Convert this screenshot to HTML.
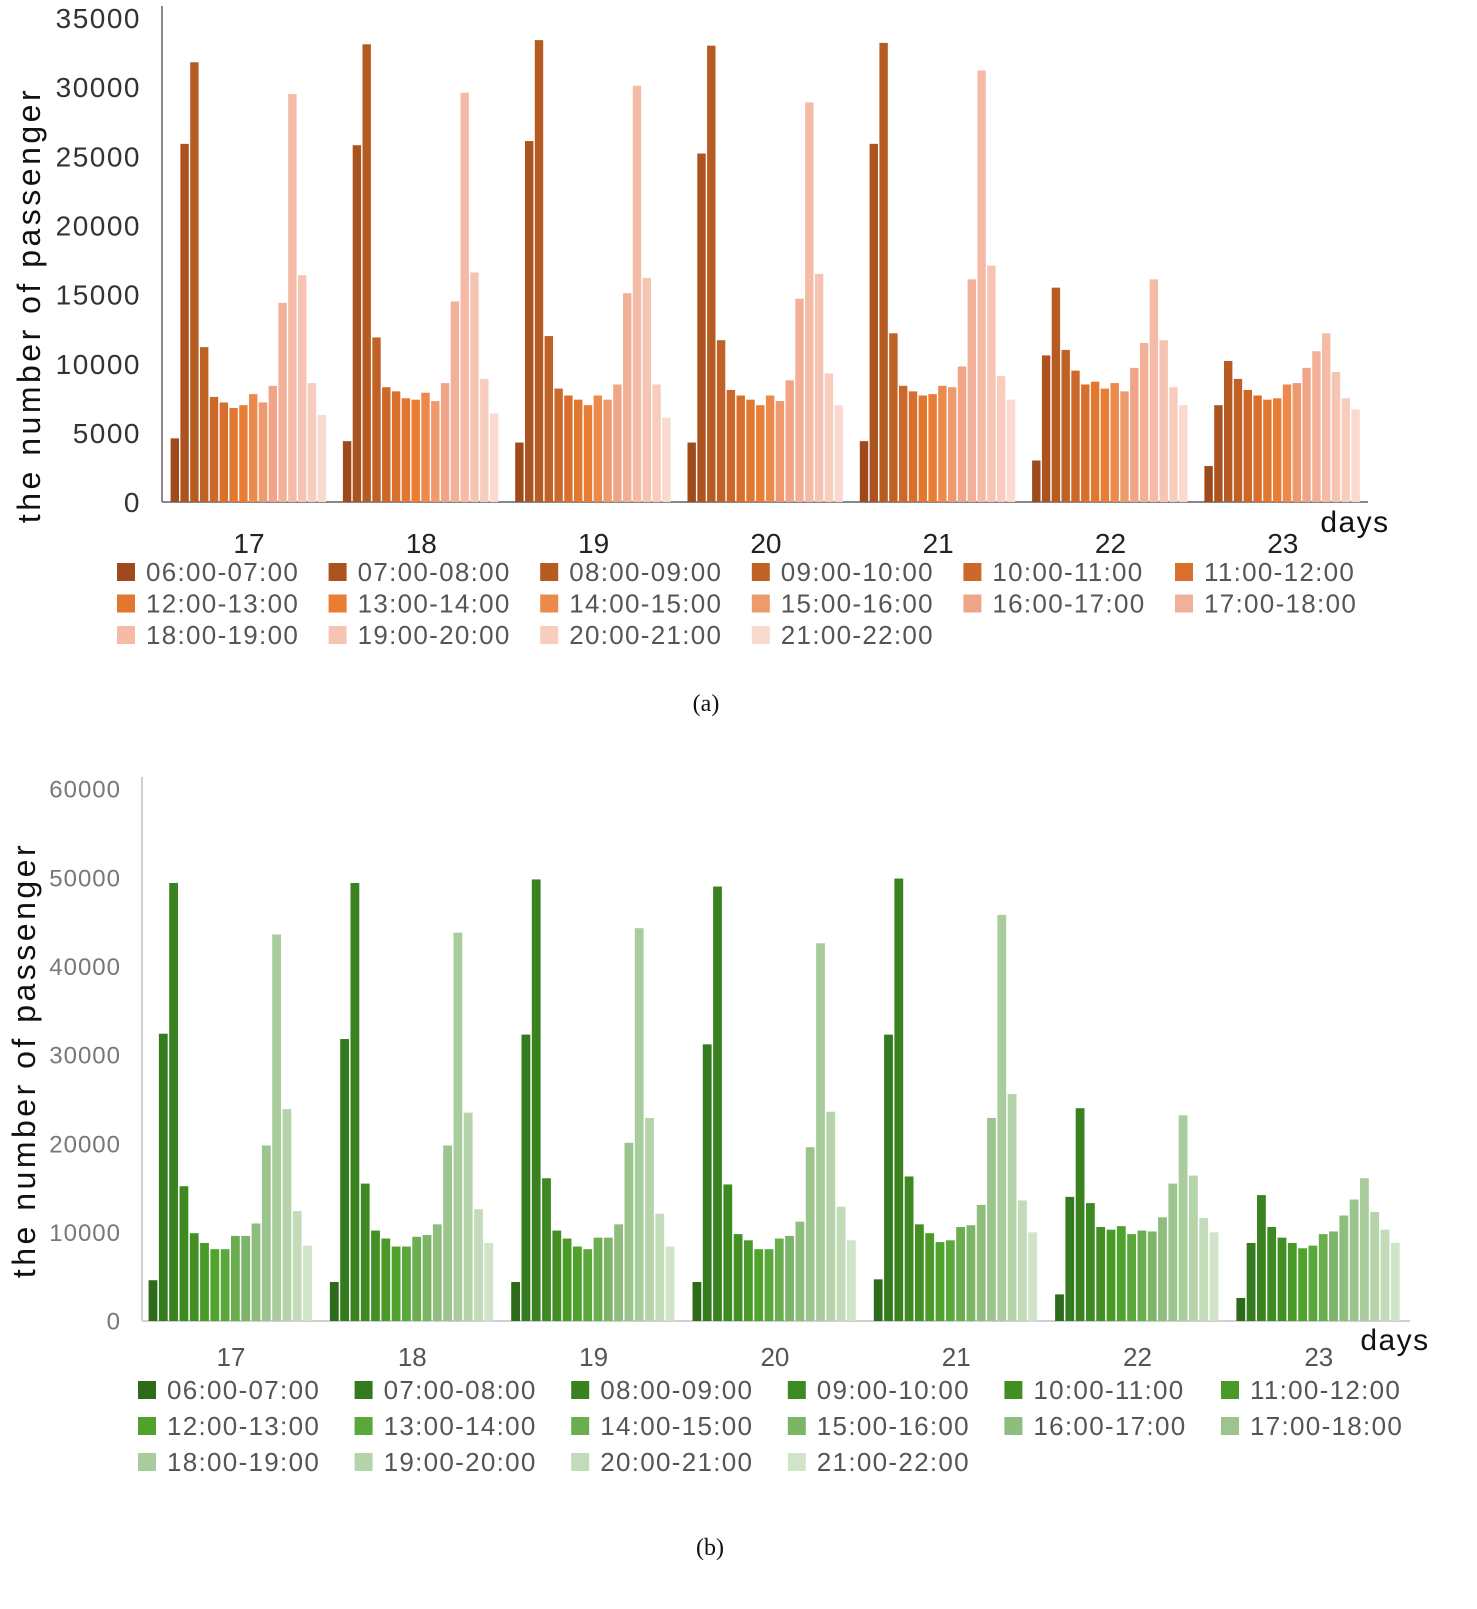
<!DOCTYPE html>
<html><head><meta charset="utf-8">
<style>
body{margin:0;background:#fff;}
svg{display:block;}
text{font-family:"Liberation Sans","Noto Sans CJK SC",sans-serif;}
</style></head>
<body>
<svg id="root" width="1477" height="1609" viewBox="0 0 1477 1609"></svg>
<script>
const days = ["17","18","19","20","21","22","23"];
const slots = ["06:00-07:00","07:00-08:00","08:00-09:00","09:00-10:00","10:00-11:00","11:00-12:00","12:00-13:00","13:00-14:00","14:00-15:00","15:00-16:00","16:00-17:00","17:00-18:00","18:00-19:00","19:00-20:00","20:00-21:00","21:00-22:00"];
const ticksA = [0,5000,10000,15000,20000,25000,30000,35000];
const ticksB = [0,10000,20000,30000,40000,50000,60000];
const valuesA = [
[4600,25900,31800,11200,7600,7200,6800,7000,7800,7200,8400,14400,29500,16400,8600,6300],
[4400,25800,33100,11900,8300,8000,7500,7400,7900,7300,8600,14500,29600,16600,8900,6400],
[4300,26100,33400,12000,8200,7700,7400,7000,7700,7400,8500,15100,30100,16200,8500,6100],
[4300,25200,33000,11700,8100,7700,7400,7000,7700,7300,8800,14700,28900,16500,9300,7000],
[4400,25900,33200,12200,8400,8000,7700,7800,8400,8300,9800,16100,31200,17100,9100,7400],
[3000,10600,15500,11000,9500,8500,8700,8200,8600,8000,9700,11500,16100,11700,8300,7000],
[2600,7000,10200,8900,8100,7700,7400,7500,8500,8600,9700,10900,12200,9400,7500,6700]];
const valuesB = [
[4600,32400,49400,15200,9900,8800,8100,8100,9600,9600,11000,19800,43600,23900,12400,8500],
[4400,31800,49400,15500,10200,9300,8400,8400,9500,9700,10900,19800,43800,23500,12600,8800],
[4400,32300,49800,16100,10200,9300,8400,8100,9400,9400,10900,20100,44300,22900,12100,8400],
[4400,31200,49000,15400,9800,9100,8100,8100,9300,9600,11200,19600,42600,23600,12900,9100],
[4700,32300,49900,16300,10900,9900,8900,9100,10600,10800,13100,22900,45800,25600,13600,10000],
[3000,14000,24000,13300,10600,10300,10700,9800,10200,10100,11700,15500,23200,16400,11600,10000],
[2600,8800,14200,10600,9400,8800,8200,8500,9800,10100,11900,13700,16100,12300,10300,8800]];
const colorsA=["#9e4a1c","#ad531f","#b65c22","#c06226","#cc6829","#d96f2c","#e2772f","#e87d33","#ec8a4d","#ef9a6c","#f1a588","#f3b098","#f5bba6","#f6c4b2","#f8cdbe","#fad9cf"];
const colorsB=["#2d6a1a","#347a1f","#3a8220","#3e8a22","#448f24","#4a9a28","#4fa22c","#5aa83c","#6aae50","#7cb468","#8fbd7e","#9cc48e","#a9cc9c","#b5d4aa","#c2dbb8","#d0e4c8"];

const NS="http://www.w3.org/2000/svg";
const root=document.getElementById('root');
function mk(tag,attrs,parent,txt){const e=document.createElementNS(NS,tag);for(const k in attrs)e.setAttribute(k,attrs[k]);if(txt!==undefined)e.textContent=txt;(parent||root).appendChild(e);return e;}

function chart(cfg){
  const g=mk('g',{});
  
  
  const y=v=>cfg.y0-(v/cfg.max)*(cfg.y0-cfg.yTop);
  const x=(d,s)=>cfg.c0+d*cfg.gs-cfg.step*8+s*cfg.step;
  const ya=mk('line',{x1:cfg.ax,y1:cfg.yTop-12,x2:cfg.ax,y2:cfg.y0,stroke:cfg.axisCol,'stroke-width':2},g);
  
  
  const xa=mk('line',{x1:cfg.ax,y1:cfg.y0,x2:cfg.axEnd,y2:cfg.y0,stroke:cfg.axisCol,'stroke-width':2},g);
  
  
  cfg.ticks.forEach(t=>{
    const tl=mk('text',{x:cfg.tickX,y:y(t)+cfg.tickFs*0.36,'text-anchor':'end','font-size':cfg.tickFs,fill:cfg.tickCol,'letter-spacing':cfg.tickLs},g,String(t));
    
    
  });
  cfg.vals.forEach((row,d)=>{
    row.forEach((v,s)=>{
      const r=mk('rect',{x:x(d,s),y:y(v),width:cfg.bw,height:cfg.y0-y(v),fill:cfg.colors[s]},g);
      
      
    });
    const cl=mk('text',{x:cfg.c0+d*cfg.gs,y:cfg.catY,'text-anchor':'middle','font-size':cfg.catFs,fill:cfg.catCol},g,days[d]);
    
    
  });
  const dl=mk('text',{x:cfg.daysX,y:cfg.daysY,'text-anchor':'middle','font-size':30,fill:'#111','letter-spacing':'1.5'},g,'days');
  
  
  const yt=mk('text',{x:0,y:0,transform:`translate(${cfg.ytX},${cfg.ytY}) rotate(-90)`,'text-anchor':'middle','font-size':32,fill:'#111','letter-spacing':'3.5'},g,'the number of passenger');
  
  
  slots.forEach((s,i)=>{
    const col=i%6,row=Math.floor(i/6);
    const lx=cfg.lx0+col*cfg.lcw, ly=cfg.ly0+row*cfg.lrh;
    const le=mk('g',{},g);
    
    
    mk('rect',{x:lx,y:ly-9,width:18,height:18,fill:cfg.colors[i]},le);
    mk('text',{x:lx+29,y:ly+9,'font-size':cfg.legFs,fill:cfg.legCol,'letter-spacing':'1.3'},le,s);
  });
}

chart({name:'chart-a',vals:valuesA,colors:colorsA,ticks:ticksA,max:35000,y0:502,yTop:18,ax:162,axEnd:1368,
  c0:249,gs:172.3,step:9.8,bw:8.4,tickX:141,tickFs:28,tickLs:1.5,tickCol:'#333',axisCol:'#888',catY:553,catFs:28,catCol:'#222',
  daysX:1355,daysY:532,ytX:40,ytY:305,lx0:117,lcw:211.6,ly0:572,lrh:31.5,legFs:26,legCol:'#555'});
chart({name:'chart-b',vals:valuesB,colors:colorsB,ticks:ticksB,max:60000,y0:1321,yTop:789,ax:142,axEnd:1410,
  c0:231,gs:181.3,step:10.3,bw:8.8,tickX:121,tickFs:24,tickLs:1,tickCol:'#777',axisCol:'#d0d0d0',catY:1366,catFs:26,catCol:'#555',
  daysX:1395,daysY:1350,ytX:35,ytY:1060,lx0:138,lcw:216.6,ly0:1390,lrh:36,legFs:26,legCol:'#555'});

const ca=mk('text',{x:706,y:711,'text-anchor':'middle','font-size':24,fill:'#111',style:'font-family:"Liberation Serif",serif'},root,'(a)');


const cb=mk('text',{x:710,y:1555,'text-anchor':'middle','font-size':24,fill:'#111',style:'font-family:"Liberation Serif",serif'},root,'(b)');


</script>
</body></html>
